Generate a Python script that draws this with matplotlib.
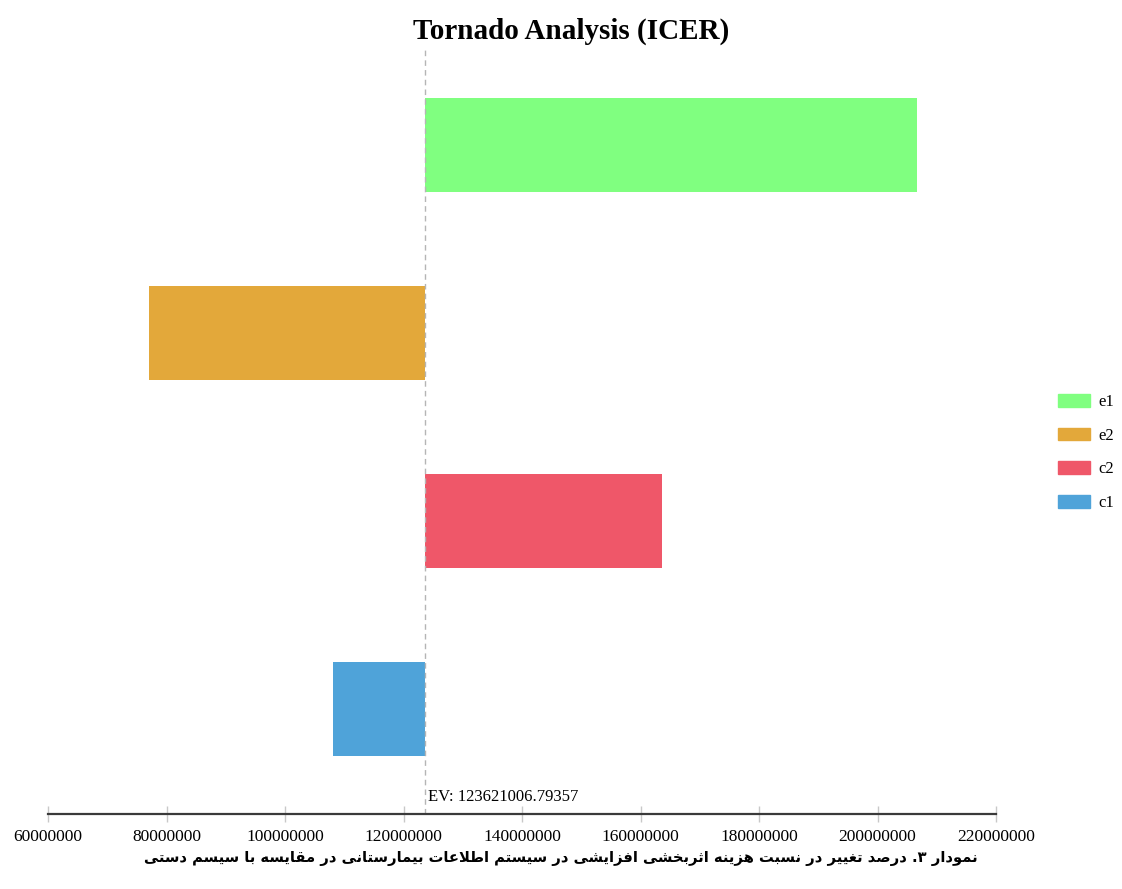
import matplotlib
matplotlib.use("Agg")
from matplotlib import pyplot as plt
from matplotlib import transforms
from matplotlib.patches import Patch

# tornado data
categories = ["c1", "c2", "e2", "e1"]
low_values = [108100000, 123621006.79357, 77000000, 123621006.79357]
high_values = [123621006.79357, 163600000, 123621006.79357, 206700000]
bar_colors = ["#4fa3d9", "#ef5769", "#e3a83a", "#80ff80"]
ev_value = 123621006.79357
x_ticks = [60000000, 80000000, 100000000, 120000000, 140000000,
           160000000, 180000000, 200000000, 220000000]
title_text = "Tornado Analysis (ICER)"
caption_text = "نمودار ۳. درصد تغییر در نسبت هزینه اثربخشی افزایشی در سیستم اطلاعات بیمارستانی در مقایسه با سیسم دستی"

# simple persian shaping: (isolated, final, initial, medial)
forms = {
    "ا": ("\uFE8D", "\uFE8E", None, None),
    "ب": ("\uFE8F", "\uFE90", "\uFE91", "\uFE92"),
    "ت": ("\uFE95", "\uFE96", "\uFE97", "\uFE98"),
    "ث": ("\uFE99", "\uFE9A", "\uFE9B", "\uFE9C"),
    "خ": ("\uFEA5", "\uFEA6", "\uFEA7", "\uFEA8"),
    "د": ("\uFEA9", "\uFEAA", None, None),
    "ر": ("\uFEAD", "\uFEAE", None, None),
    "ز": ("\uFEAF", "\uFEB0", None, None),
    "س": ("\uFEB1", "\uFEB2", "\uFEB3", "\uFEB4"),
    "ش": ("\uFEB5", "\uFEB6", "\uFEB7", "\uFEB8"),
    "ص": ("\uFEB9", "\uFEBA", "\uFEBB", "\uFEBC"),
    "ط": ("\uFEC1", "\uFEC2", "\uFEC3", "\uFEC4"),
    "ع": ("\uFEC9", "\uFECA", "\uFECB", "\uFECC"),
    "غ": ("\uFECD", "\uFECE", "\uFECF", "\uFED0"),
    "ف": ("\uFED1", "\uFED2", "\uFED3", "\uFED4"),
    "ق": ("\uFED5", "\uFED6", "\uFED7", "\uFED8"),
    "ل": ("\uFEDD", "\uFEDE", "\uFEDF", "\uFEE0"),
    "م": ("\uFEE1", "\uFEE2", "\uFEE3", "\uFEE4"),
    "ن": ("\uFEE5", "\uFEE6", "\uFEE7", "\uFEE8"),
    "ه": ("\uFEE9", "\uFEEA", "\uFEEB", "\uFEEC"),
    "و": ("\uFEED", "\uFEEE", None, None),
    "ی": ("\uFBFC", "\uFBFD", "\uFBFE", "\uFBFF"),
}


def shape_fa(text):
    chars = list(text)
    out = []
    i = 0
    while i < len(chars):
        c = chars[i]
        if c not in forms:
            out.append(c)
            i += 1
            continue
        prev = chars[i - 1] if i > 0 else None
        joins_prev = prev in forms and forms[prev][2] is not None
        # lam-alef ligature
        if c == "ل" and i + 1 < len(chars) and chars[i + 1] == "ا":
            out.append("\uFEFC" if joins_prev else "\uFEFB")
            i += 2
            continue
        nxt = chars[i + 1] if i + 1 < len(chars) else None
        joins_next = forms[c][2] is not None and nxt in forms
        iso, fin, ini, med = forms[c]
        if joins_prev and joins_next:
            out.append(med)
        elif joins_prev:
            out.append(fin)
        elif joins_next:
            out.append(ini)
        else:
            out.append(iso)
        i += 1
    return "".join(out)[::-1]


fig = plt.figure(figsize=(11.22, 8.89), dpi=100)
ax = fig.add_axes([0.0428, 0.0844, 0.8449, 0.8616])

y_pos = list(range(len(categories)))
for i in range(len(categories)):
    ax.barh(y_pos[i], high_values[i] - low_values[i], left=low_values[i],
            height=0.5, color=bar_colors[i], label=categories[i])

ax.axvline(ev_value, color="#b5b5b5", linestyle=(0, (4, 3)), linewidth=1)

ax.set_xlim(60000000, 220000000)
ax.set_ylim(-0.559, 3.516)
ax.set_xticks(x_ticks)
ax.set_xticklabels([str(t) for t in x_ticks], fontfamily="Liberation Serif", fontsize=12.5)
ax.set_yticks([])
for s in ["top", "left", "right"]:
    ax.spines[s].set_visible(False)
ax.spines["bottom"].set_color("#3a3a3a")
ax.spines["bottom"].set_linewidth(1.6)
ax.tick_params(axis="x", direction="inout", length=11, width=1, color="#c8c8c8", pad=5)

trans = transforms.blended_transform_factory(ax.transData, ax.transAxes)
ax.text(ev_value + 500000, 0.012, "EV: %s" % ev_value, transform=trans,
        fontfamily="Liberation Serif", fontsize=12, ha="left", va="bottom")

handles = [Patch(color=bar_colors[i], label=categories[i]) for i in range(len(categories) - 1, -1, -1)]
fig.legend(handles=handles, loc="center left", bbox_to_anchor=(0.9295, 0.491), frameon=False,
           prop={"family": "Liberation Serif", "size": 12}, handlelength=1.9, handleheight=0.8,
           labelspacing=1.05, handletextpad=0.5)

fig.text(0.509, 0.965, title_text, ha="center", va="center",
         fontfamily="Liberation Serif", fontweight="bold", fontsize=21)
fig.text(0.5, 0.034, shape_fa(caption_text), ha="center", va="center",
         fontfamily="DejaVu Sans", fontweight="bold", fontsize=10.6)

fig.savefig("out.png", dpi=100)
